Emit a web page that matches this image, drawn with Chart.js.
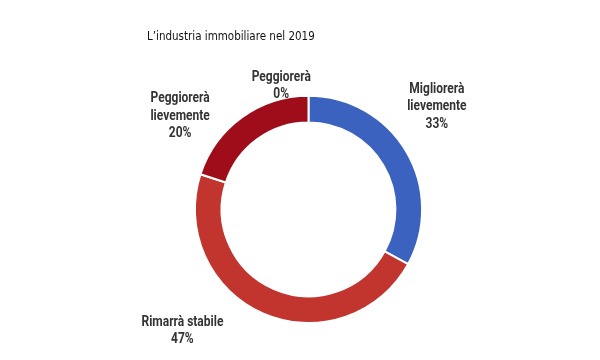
<!DOCTYPE html>
<html>
<head>
<meta charset="utf-8">
<script src="https://cdn.jsdelivr.net/npm/chart.js@4"></script>
<style>
  html, body { margin: 0; padding: 0; background: #fff; }
  #wrap { width: 600px; height: 360px; }
</style>
</head>
<body>
<div id="wrap"><canvas id="donut" width="600" height="360"></canvas></div>
<script>
const title = "L\u2019industria immobiliare nel 2019";
const categories = [
    ["Migliorerà", "lievemente"],
    ["Rimarrà stabile"],
    ["Peggiorerà", "lievemente"],
    ["Peggiorerà"]
];
const values = [33, 47, 20, 0];
const colors = ["#3a62be", "#c2352f", "#a00d1a", "#7a0a14"];

// where each label sits, relative to outer radius (dx, dy from centre)
const labelOffsets = [[1.13, -0.905], [-1.11, 1.07], [-1.13, -0.82], [-0.24, -1.09]];

const outsideLabels = {
    id: "outsideLabels",
    afterDatasetsDraw(chart) {
        const ctx = chart.ctx;
        const meta = chart.getDatasetMeta(0);
        const sx = 0.8; // squeeze to look like a condensed face
        ctx.save();
        ctx.font = "bold 15px Roboto, 'DejaVu Sans', sans-serif";
        ctx.fillStyle = "#333333";
        ctx.textAlign = "center";
        ctx.textBaseline = "middle";
        const lh = 17.5;
        meta.data.forEach((arc, i) => {
            const lines = categories[i].concat([values[i] + "%"]);
            const cx = arc.x + labelOffsets[i][0] * arc.outerRadius;
            const cy = arc.y + labelOffsets[i][1] * arc.outerRadius;
            const top = cy - (lines.length - 1) * lh / 2;
            lines.forEach((t, j) => {
                ctx.save();
                ctx.translate(cx, top + j * lh);
                ctx.scale(sx, 1);
                ctx.fillText(t, 0, 0);
                ctx.restore();
            });
        });
        ctx.restore();
    }
};

new Chart(document.getElementById("donut"), {
    type: "doughnut",
    data: {
        labels: categories.map(c => c.join(" ")),
        datasets: [{
            data: values,
            backgroundColor: colors,
            borderColor: "#ffffff",
            borderWidth: 2
        }]
    },
    options: {
        responsive: false,
        animation: false,
        cutout: "76.5%",
        layout: { padding: { left: 147, right: 130, top: 0, bottom: 36 } },
        plugins: {
            legend: { display: false },
            tooltip: { enabled: false },
            title: {
                display: true,
                text: title,
                align: "start",
                color: "#111111",
                font: { family: "'DejaVu Sans Condensed', 'DejaVu Sans', sans-serif", size: 11.5, weight: "normal" },
                padding: { top: 30, bottom: 51 }
            }
        }
    },
    plugins: [outsideLabels]
});
</script>
</body>
</html>
